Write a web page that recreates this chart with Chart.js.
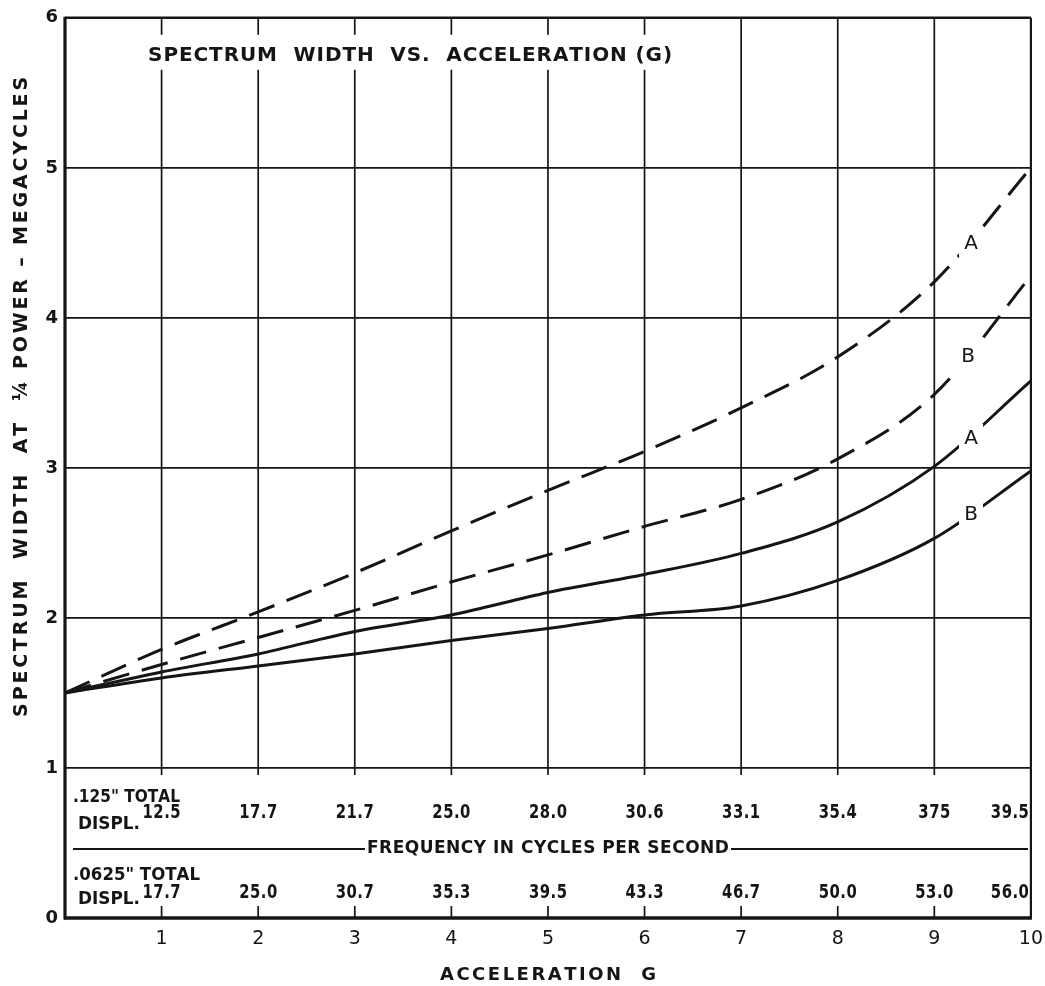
<!DOCTYPE html>
<html>
<head>
<meta charset="utf-8">
<title>Spectrum width vs. acceleration (G)</title>
<script src="https://cdn.jsdelivr.net/npm/chart.js@4.4.1/dist/chart.umd.min.js"></script>
<style>
  html, body { margin: 0; padding: 0; background: #fff; }
  #wrap { width: 1045px; height: 986px; position: relative; }
</style>
</head>
<body>
<div id="wrap"><canvas id="chart"></canvas></div>
<script>
// acceleration in G (x axis)
const accel = [0, 1, 2, 3, 4, 5, 6, 7, 8, 9, 10];

// spectrum width at 1/4 power, megacycles
const dashA  = [1.50, 1.79, 2.04, 2.30, 2.58, 2.85, 3.11, 3.40, 3.74, 4.24, 5.00];
const dashB  = [1.50, 1.69, 1.87, 2.05, 2.24, 2.42, 2.61, 2.79, 3.06, 3.49, 4.28];
const solidA = [1.50, 1.64, 1.76, 1.91, 2.02, 2.17, 2.29, 2.43, 2.64, 3.01, 3.58];
const solidB = [1.50, 1.60, 1.68, 1.76, 1.85, 1.93, 2.02, 2.08, 2.25, 2.53, 2.98];

// frequency table under the curves, cycles per second, at G = 1..10
const freqG    = [1, 2, 3, 4, 5, 6, 7, 8, 9, 10];
const freq125  = ['12.5', '17.7', '21.7', '25.0', '28.0', '30.6', '33.1', '35.4', '375', '39.5'];
const freq0625 = ['17.7', '25.0', '30.7', '35.3', '39.5', '43.3', '46.7', '50.0', '53.0', '56.0'];

// tick labels
const xTickLabels = ['', '1', '2', '3', '4', '5', '6', '7', '8', '9', '10'];
const yTickLabels = ['0', '1', '2', '3', '4', '5', '6'];

const INK = '#151515';
const FONT = '"DejaVu Sans", "Liberation Sans", sans-serif';

// draw text letter by letter so it can be spread / squeezed like the hand lettering
function letter(ctx, str, x, y, o) {
    ctx.save();
    ctx.font = `${o.weight || 'bold'} ${o.size}px ${FONT}`;
    ctx.fillStyle = INK;
    ctx.textBaseline = 'middle';
    ctx.textAlign = 'left';
    const chars = [...str];
    let sx = o.sx || 1;
    let ws = chars.map(c => ctx.measureText(c).width);
    let raw = ws.reduce((a, b) => a + b, 0) * sx;
    let gap = o.gap || 0;
    if (o.width) {
        gap = (o.width - raw) / Math.max(1, chars.length - 1);
        if (gap < 0) { sx *= o.width / raw; raw = o.width; gap = 0; }
    }
    ws = ws.map(w => w * sx);
    const total = raw + gap * (chars.length - 1);
    let cx = o.align === 'center' ? x - total / 2 : o.align === 'right' ? x - total : x;
    const start = cx;
    chars.forEach((c, i) => {
        ctx.save();
        ctx.translate(cx, y);
        ctx.scale(sx, 1);
        ctx.fillText(c, 0, 0);
        ctx.restore();
        cx += ws[i] + gap;
    });
    ctx.restore();
    return { start, end: start + total };
}

function line(ctx, x1, y1, x2, y2, w) {
    ctx.beginPath();
    ctx.moveTo(x1, y1);
    ctx.lineTo(x2, y2);
    ctx.lineWidth = w;
    ctx.stroke();
}

const paper = {
    id: 'paper',
    beforeDatasetsDraw(chart) {
        const { ctx, chartArea: a, scales: { x, y } } = chart;
        ctx.save();
        ctx.strokeStyle = INK;

        // vertical grid only over the curve part, stopping just under the 1 line
        for (let g = 1; g <= 9; g++) {
            const px = x.getPixelForValue(g);
            line(ctx, px, a.top, px, y.getPixelForValue(1) + 7, 1.7);
            line(ctx, px, a.bottom, px, a.bottom - 12, 1.7);
        }

        // title, with the grid broken behind it
        ctx.fillStyle = '#fff';
        ctx.fillRect(x.getPixelForValue(0.78), a.top + 17, x.getPixelForValue(6.3) - x.getPixelForValue(0.78), 35);
        letter(ctx, 'SPECTRUM  WIDTH  VS.  ACCELERATION (G)', x.getPixelForValue(0.86), y.getPixelForValue(5.75),
            { size: 20, width: 524 });

        // frequency table
        const r1 = y.getPixelForValue(0.70);
        const r2 = y.getPixelForValue(0.165);
        letter(ctx, '.125" TOTAL', a.left + 8, y.getPixelForValue(0.80), { size: 17, width: 107 });
        letter(ctx, 'DISPL.', a.left + 13, y.getPixelForValue(0.625), { size: 17, width: 62 });
        letter(ctx, '.0625" TOTAL', a.left + 8, y.getPixelForValue(0.28), { size: 17, width: 127 });
        letter(ctx, 'DISPL.', a.left + 13, y.getPixelForValue(0.125), { size: 17, width: 62 });
        freqG.forEach((g, i) => {
            const last = g === 10;
            const px = last ? a.right - 2 : x.getPixelForValue(g);
            const al = last ? 'right' : 'center';
            letter(ctx, freq125[i], px, r1, { size: 19, sx: 0.78, align: al, gap: 0.5 });
            letter(ctx, freq0625[i], px, r2, { size: 19, sx: 0.78, align: al, gap: 0.5 });
        });
        const ry = y.getPixelForValue(0.46);
        const t = letter(ctx, 'FREQUENCY IN CYCLES PER SECOND', x.getPixelForValue(5), ry,
            { size: 17, width: 362, align: 'center' });
        line(ctx, a.left + 8, ry, t.start - 2, ry, 2);
        line(ctx, t.end + 2, ry, a.right - 3, ry, 2);
        ctx.restore();
    },
    afterDatasetsDraw(chart) {
        const { ctx, chartArea: a, scales: { x, y } } = chart;
        ctx.save();
        ctx.strokeStyle = INK;

        // curve letters sit in a gap cut out of their own curve
        chart.data.datasets.forEach((ds, i) => {
            const pts = chart.getDatasetMeta(i).data;
            const k = Math.floor(ds.tagX);
            const f = ds.tagX - k;
            const px = pts[k].x + (pts[k + 1].x - pts[k].x) * f;
            const py = pts[k].y + (pts[k + 1].y - pts[k].y) * f + ds.bulge;
            ctx.fillStyle = '#fff';
            ctx.fillRect(px - 12, py - 15, 24, 29);
            letter(ctx, ds.tag, px, py, { size: 20, weight: 'normal', align: 'center' });
        });

        // frame
        line(ctx, a.left, a.top - 1, a.left, a.bottom + 1.5, 3.2);
        line(ctx, a.left - 1, a.bottom, a.right + 1, a.bottom, 3.4);
        line(ctx, a.left, a.top, a.right, a.top, 2.6);
        line(ctx, a.right, a.top, a.right, a.bottom, 2.2);

        // axis titles
        letter(ctx, 'ACCELERATION  G', x.getPixelForValue(5), a.bottom + 57, { size: 18, width: 216, align: 'center' });
        ctx.translate(22, (y.getPixelForValue(1) + y.getPixelForValue(6)) / 2 + 4);
        ctx.rotate(-Math.PI / 2);
        letter(ctx, 'SPECTRUM  WIDTH  AT  \u00BC POWER \u2013 MEGACYCLES', 0, 0, { size: 19, width: 640, align: 'center' });
        ctx.restore();
    }
};

const curves = [
    { name: 'A dashed', values: dashA,  dash: [27, 13], tag: 'A', tagX: 9.38, bulge: 5 },
    { name: 'B dashed', values: dashB,  dash: [27, 13], tag: 'B', tagX: 9.35, bulge: 4 },
    { name: 'A solid',  values: solidA, dash: [],       tag: 'A', tagX: 9.38, bulge: 5 },
    { name: 'B solid',  values: solidB, dash: [],       tag: 'B', tagX: 9.38, bulge: 2 }
];

new Chart(document.getElementById('chart'), {
    type: 'line',
    data: {
        datasets: curves.map(c => ({
            label: c.name,
            data: accel.map((g, i) => ({ x: g, y: c.values[i] })),
            borderColor: INK,
            borderWidth: 3,
            borderDash: c.dash,
            pointRadius: 0,
            fill: false,
            cubicInterpolationMode: 'monotone',
            tag: c.tag,
            tagX: c.tagX,
            bulge: c.bulge
        }))
    },
    options: {
        responsive: true,
        maintainAspectRatio: false,
        animation: false,
        layout: { padding: { top: 12, right: 12, left: 0, bottom: 0 } },
        plugins: { legend: { display: false }, tooltip: { enabled: false } },
        scales: {
            x: {
                type: 'linear', min: 0, max: 10,
                grid: { display: false },
                border: { display: false },
                ticks: {
                    stepSize: 1, color: INK, padding: 2, maxRotation: 0,
                    font: { family: FONT, size: 19 },
                    callback: v => xTickLabels[v] ?? ''
                },
                afterFit: s => { s.height = 68; }
            },
            y: {
                min: 0, max: 6,
                grid: { color: INK, lineWidth: 1.7, drawTicks: false },
                border: { display: false },
                ticks: {
                    stepSize: 1, color: INK, padding: 7,
                    font: { family: FONT, size: 18, weight: 'bold' },
                    callback: v => yTickLabels[v] ?? ''
                },
                afterFit: s => { s.width = 65; }
            }
        }
    },
    plugins: [paper]
});
</script>
</body>
</html>
